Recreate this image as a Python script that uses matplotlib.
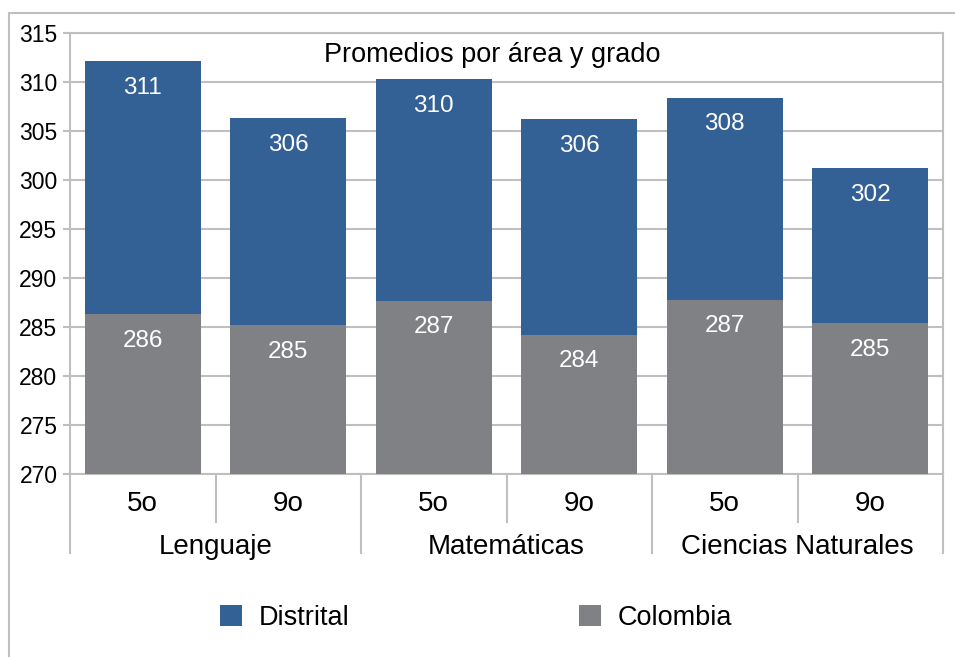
import matplotlib.pyplot as plt
import numpy as np
from matplotlib.patches import Rectangle

# Data
areas = ["Lenguaje", "Matemáticas", "Ciencias Naturales"]
grades = ["5o", "9o", "5o", "9o", "5o", "9o"]
distrital = [312.1, 306.3, 310.3, 306.2, 308.4, 301.2]
colombia = [286.3, 285.2, 287.7, 284.2, 287.8, 285.4]
distrital_labels = ["311", "306", "310", "306", "308", "302"]
colombia_labels = ["286", "285", "287", "284", "287", "285"]

blue = "#336196"
gray = "#808184"
line_gray = "#bfbfbf"

plt.rcParams["font.family"] = ["Liberation Sans", "DejaVu Sans"]

fig = plt.figure(figsize=(9.55, 6.57), dpi=100)
ax = fig.add_axes([70 / 955, 1 - 474 / 657, 873 / 955, 441 / 657])

x = np.arange(len(grades))
b1 = ax.bar(x, distrital, width=0.8, color=blue, label="Distrital", zorder=2)
b2 = ax.bar(x, colombia, width=0.8, color=gray, label="Colombia", zorder=3)

ax.bar_label(b1, labels=distrital_labels, padding=-27, color="white", fontsize=17.5)
ax.bar_label(b2, labels=colombia_labels, padding=-27, color="white", fontsize=17.5)

ax.set_ylim(270, 315)
ax.set_xlim(-0.5, len(grades) - 0.5)
ax.set_yticks(range(270, 316, 5))
ax.yaxis.grid(True, color=line_gray, linewidth=1.5, zorder=0)
ax.set_axisbelow(True)
for s in ax.spines.values():
    s.set_color(line_gray)
    s.set_linewidth(1.5)
ax.tick_params(axis="y", length=5, width=1.5, color=line_gray, labelsize=16.5, pad=4)

# Category axis: grade labels and group labels with separators
ax.set_xticks(x)
ax.set_xticklabels(grades, fontsize=20)
ax.tick_params(axis="x", length=0, pad=12)
tr = ax.get_xaxis_transform()
for i, area in enumerate(areas):
    ax.text(2 * i + 0.5, -0.165, area, transform=tr, ha="center", va="center", fontsize=20)
for b in np.arange(-0.5, len(grades), 1.0):
    low = -0.179 if (b + 0.5) % 2 == 0 else -0.109
    ax.plot([b, b], [0, low], transform=tr, color=line_gray, linewidth=1.5, clip_on=False)

ax.text(0.484, 0.95, "Promedios por área y grado", transform=ax.transAxes,
        ha="center", va="center", fontsize=19.5)

fig.legend(handles=[b1, b2], loc="center", bbox_to_anchor=(476 / 955, 1 - 618 / 657),
           ncol=2, frameon=False, fontsize=19.5, handlelength=0.8, handleheight=0.8,
           handletextpad=0.6, columnspacing=8.5)

# Outer chart frame
fig.patches.append(Rectangle((9 / 955, -0.1), 1.2, 1 - 13 / 657 + 0.1, transform=fig.transFigure,
                             fill=False, edgecolor=line_gray, linewidth=1.5))

fig.savefig("out.png", dpi=100)
